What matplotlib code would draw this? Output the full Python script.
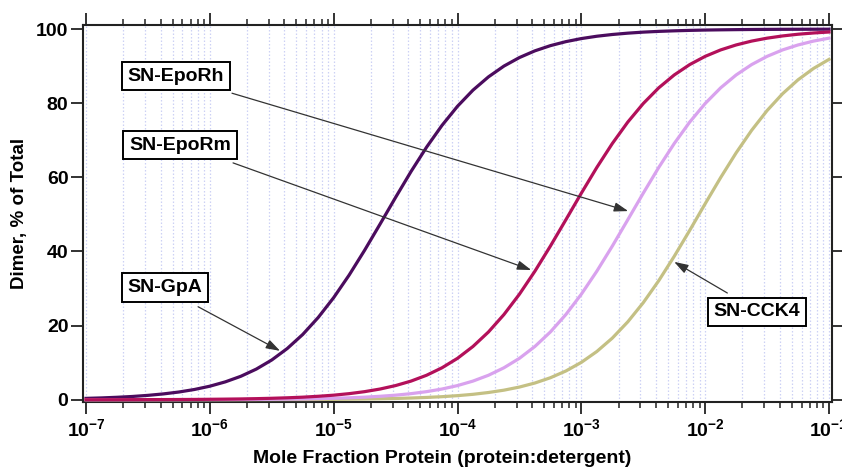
import matplotlib
matplotlib.use("Agg")
import matplotlib.pyplot as plt
import matplotlib.ticker as mticker
import numpy as np

# sample points: every 1/8 decade from 1e-7 to 1e-1
mole_frac = np.logspace(-7, -1, 49)

# % dimer at each sample point
gpa = [0.38, 0.50, 0.67, 0.89, 1.19, 1.58, 2.09, 2.77,
       3.66, 4.83, 6.33, 8.27, 10.73, 13.82, 17.61, 22.19,
       27.55, 33.64, 40.34, 47.41, 54.59, 61.59, 68.13, 74.03,
       79.18, 83.53, 87.11, 90.02, 92.32, 94.13, 95.53, 96.61,
       97.44, 98.07, 98.54, 98.90, 99.18, 99.38, 99.53, 99.65,
       99.74, 99.80, 99.85, 99.89, 99.92, 99.94, 99.95, 99.96, 99.97]
epor_m = [0.01, 0.02, 0.02, 0.03, 0.04, 0.05, 0.07, 0.09,
          0.13, 0.17, 0.22, 0.30, 0.40, 0.53, 0.70, 0.94,
          1.24, 1.65, 2.19, 2.90, 3.83, 5.04, 6.61, 8.63,
          11.18, 14.38, 18.29, 22.99, 28.48, 34.68, 41.45, 48.56,
          55.73, 62.67, 69.12, 74.91, 79.92, 84.15, 87.62, 90.42,
          92.64, 94.38, 95.72, 96.76, 97.55, 98.15, 98.61, 98.95, 99.21]
epor_h = [0.00, 0.01, 0.01, 0.01, 0.01, 0.02, 0.02, 0.03,
          0.04, 0.05, 0.07, 0.09, 0.13, 0.17, 0.22, 0.30,
          0.40, 0.53, 0.70, 0.94, 1.24, 1.65, 2.19, 2.90,
          3.83, 5.04, 6.61, 8.63, 11.18, 14.38, 18.29, 22.99,
          28.48, 34.68, 41.45, 48.56, 55.73, 62.67, 69.12, 74.91,
          79.92, 84.15, 87.62, 90.42, 92.64, 94.38, 95.72, 96.76, 97.55]
cck4 = [0.00, 0.00, 0.00, 0.00, 0.00, 0.00, 0.01, 0.01,
        0.01, 0.01, 0.02, 0.03, 0.04, 0.05, 0.06, 0.08,
        0.11, 0.15, 0.20, 0.27, 0.35, 0.47, 0.63, 0.83,
        1.11, 1.47, 1.96, 2.59, 3.43, 4.52, 5.94, 7.76,
        10.09, 13.02, 16.63, 21.02, 26.19, 32.12, 38.69, 45.69,
        52.88, 59.94, 66.61, 72.68, 78.02, 82.56, 86.32, 89.38, 91.82]

decade_labels = ["10$^{-7}$", "10$^{-6}$", "10$^{-5}$", "10$^{-4}$",
                 "10$^{-3}$", "10$^{-2}$", "10$^{-1}$"]

plt.rcParams["font.family"] = ["Liberation Sans", "DejaVu Sans"]
plt.rcParams["font.weight"] = "bold"
plt.rcParams["mathtext.fontset"] = "custom"
plt.rcParams["mathtext.rm"] = "Liberation Sans:bold"
plt.rcParams["mathtext.bf"] = "Liberation Sans:bold"
plt.rcParams["mathtext.default"] = "rm"

fig = plt.figure(figsize=(8.42, 4.70), dpi=100)
ax = fig.add_axes([0.0986, 0.1447, 0.8895, 0.8021])

ax.set_xscale("log")
ax.set_xlim(10 ** -7.024, 10 ** -0.976)
ax.set_ylim(-0.6, 101.1)

# dotted vertical grid at every decade and sub-decade
for xg in ax.get_xticks(minor=True).tolist() + ax.get_xticks().tolist():
    if 1e-7 <= xg <= 1e-1:
        ax.axvline(xg, color="#cdd1f5", lw=0.9, ls=(0, (1.2, 1.6)), zorder=0)

ax.plot(mole_frac, gpa, color="#4b0c5e", lw=2.3, zorder=3)
ax.plot(mole_frac, cck4, color="#c4c084", lw=2.3, zorder=3)
ax.plot(mole_frac, epor_h, color="#d9a2ee", lw=2.3, zorder=3)
ax.plot(mole_frac, epor_m, color="#b3105a", lw=2.3, zorder=3)

ax.xaxis.set_major_locator(mticker.FixedLocator([10.0 ** k for k in range(-7, 0)]))
ax.xaxis.set_major_formatter(mticker.FixedFormatter(decade_labels))
ax.xaxis.set_minor_locator(mticker.LogLocator(base=10, subs=np.arange(2, 10), numticks=20))
ax.xaxis.set_minor_formatter(mticker.NullFormatter())
ax.set_yticks([0, 20, 40, 60, 80, 100])

ax.tick_params(axis="both", which="major", direction="out", length=8.5, width=1.3,
               labelsize=14, color="#222222", top=True, right=True)
ax.tick_params(axis="both", which="minor", direction="out", length=4.3, width=1.1,
               color="#222222", top=True, right=True)
ax.tick_params(axis="x", which="major", pad=3)
ax.tick_params(axis="y", which="major", pad=2)
for lab in ax.get_yticklabels():
    lab.set_fontweight("bold")

for sp in ax.spines.values():
    sp.set_linewidth(1.5)
    sp.set_color("#222222")

ax.set_xlabel("Mole Fraction Protein (protein:detergent)", fontsize=14,
              fontweight="bold")
ax.xaxis.set_label_coords(0.479, -0.128)
ax.set_ylabel("Dimer, % of Total", fontsize=13.5, fontweight="bold")
ax.yaxis.set_label_coords(-0.074, 0.5)

box = dict(boxstyle="square,pad=0.3", fc="white", ec="black", lw=1.4)
arrow = dict(arrowstyle="-|>,head_length=0.85,head_width=0.28", color="#333333",
             lw=0.9, shrinkA=0, shrinkB=0, mutation_scale=10)

labels = [
    ("SN-EpoRh", (5.33e-7, 87.3), (1.51e-6, 82.7), (2.39e-3, 50.9)),
    ("SN-EpoRm", (5.74e-7, 68.7), (1.54e-6, 63.9), (3.94e-4, 35.0)),
    ("SN-GpA", (4.35e-7, 30.2), (8.04e-7, 25.1), (3.69e-6, 13.2)),
    ("SN-CCK4", (2.63e-2, 23.7), (1.51e-2, 28.8), (5.62e-3, 37.2)),
]
for text, center, start, tip in labels:
    ax.annotate("", xy=tip, xytext=start, arrowprops=arrow, zorder=4)
    ax.text(center[0], center[1], text, ha="center", va="center", fontsize=14,
            fontweight="bold", bbox=box, zorder=5)

fig.savefig("out.png", dpi=100)
